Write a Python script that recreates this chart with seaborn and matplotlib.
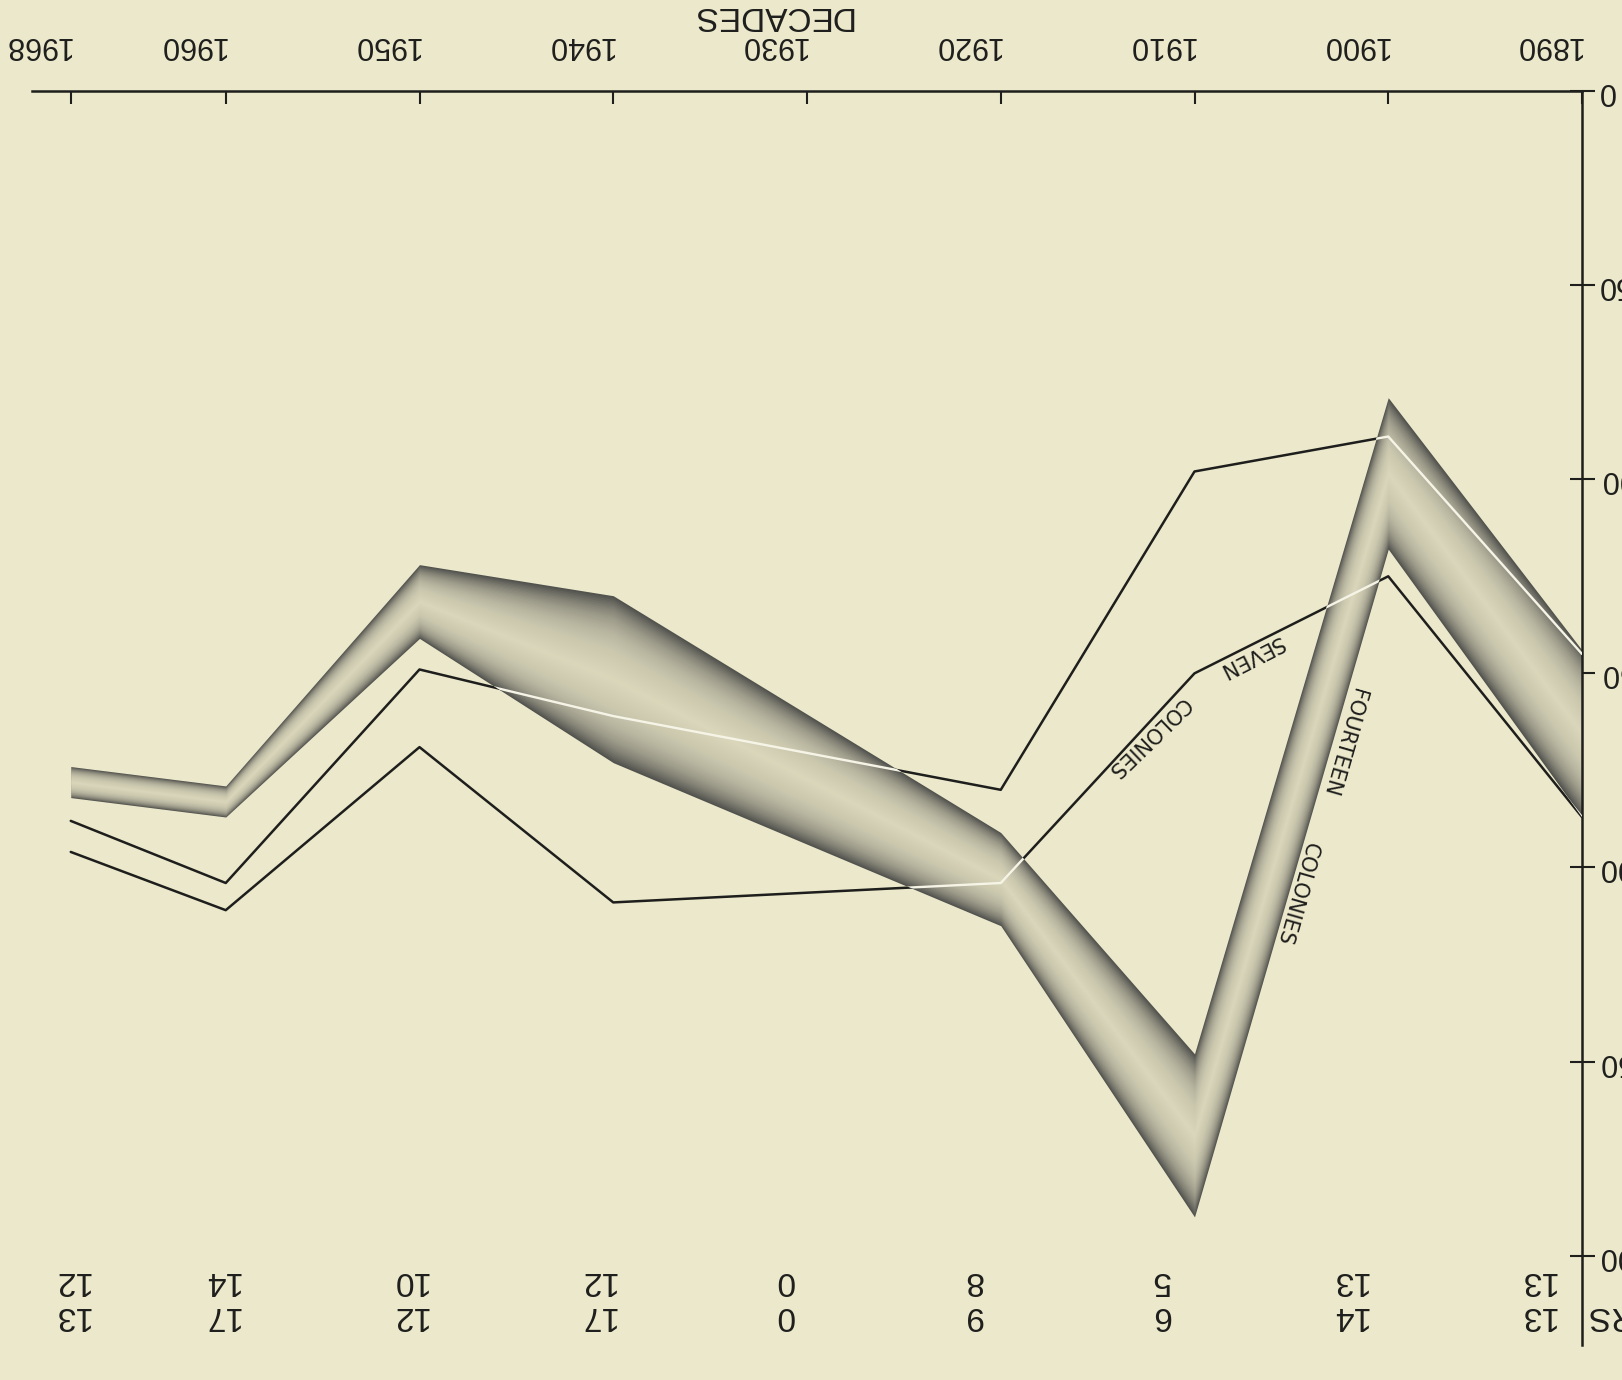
import numpy as np
import pandas as pd
import matplotlib
matplotlib.use("Agg")
import matplotlib.pyplot as plt
import seaborn as sns

# ---------------- data ----------------
decades = [1890, 1900, 1910, 1920, 1930, 1940, 1950, 1960, 1968]
decade_labels = ["1890", "1900", "1910", "1920", "1930", "1940", "1950", "1960", "1968"]
fourteen_low = [144, 79, 248, 191, np.nan, 130, 122, 179, 174]
fourteen_high = [187, 118, 290, 215, np.nan, 173, 141, 187, 182]
seven_colonies = [187, 125, 150, 204, np.nan, 209, 169, 211, 196]
second_line = [145, 89, 98, 180, np.nan, 161, 149, 204, 188]
count_row1 = [13, 14, 6, 9, 0, 17, 12, 17, 13]
count_row2 = [13, 13, 5, 8, 0, 12, 10, 14, 12]
y_ticks = [0, 50, 100, 150, 200, 250, 300]
y_tick_labels = ["0", "50", "100", "150", "200", "250", "300"]

BG = "#ebe8cb"
INK = "#1e1e1c"

sns.set_theme(style="white")
plt.rcParams["font.family"] = ["Liberation Sans Narrow", "Liberation Sans", "DejaVu Sans"]

fig = plt.figure(figsize=(16.22, 13.8), dpi=100, facecolor=BG)
ax = fig.add_axes([32 / 1622, 1 - 1345 / 1380, 1550 / 1622, 1254 / 1380])
ax.set_facecolor(BG)

df = pd.DataFrame({
    "decade": decades,
    "low": fourteen_low,
    "high": fourteen_high,
    "seven": seven_colonies,
    "second": second_line,
})
band = df.dropna(subset=["low", "high"])
bx = band["decade"].to_numpy(float)
lo = band["low"].to_numpy(float)
hi = band["high"].to_numpy(float)

# thin black lines (under the band)
for col in ["second", "seven"]:
    d = df.dropna(subset=[col])
    sns.lineplot(data=d, x="decade", y=col, sort=False, estimator=None,
                 color=INK, linewidth=1.8, ax=ax, zorder=1)

# shaded band: dark edges fading to a light centre
base = ax.fill_between(bx, lo, hi, color="#52524e", linewidth=0, zorder=2)
N = 44
for i in range(1, N + 1):
    t = i / (2 * (N + 1))
    ax.fill_between(bx, lo + (hi - lo) * t, hi - (hi - lo) * t,
                    color=BG, alpha=0.058, linewidth=0, zorder=2)

# the thin lines show as white where they cross the band
clip = base.get_paths()[0]
for col in ["second", "seven"]:
    d = df.dropna(subset=[col])
    ln, = ax.plot(d["decade"], d[col], color="#f6f4e6", linewidth=1.7, zorder=3)
    ln.set_clip_path(clip, ax.transData)

# axes: chart is shown upside down
ax.set_xlim(1970, 1890)
ax.set_ylim(323, 0)
ax.xaxis.tick_top()
ax.xaxis.set_label_position("top")
ax.yaxis.tick_right()
ax.yaxis.set_label_position("right")
for s in ["left", "bottom"]:
    ax.spines[s].set_visible(False)
for s in ["top", "right"]:
    ax.spines[s].set_visible(True)
    ax.spines[s].set_color(INK)
    ax.spines[s].set_linewidth(1.8)
ax.grid(False)

ax.set_xticks(decades)
ax.set_xticklabels(decade_labels)
ax.set_yticks(y_ticks)
ax.set_yticklabels(y_tick_labels)
ax.tick_params(axis="x", direction="in", length=9, width=1.5, pad=22,
               labelsize=22, colors=INK)
ax.tick_params(axis="y", direction="inout", length=18, width=1.5, pad=2,
               labelsize=22, colors=INK)
for lab in ax.get_xticklabels():
    lab.set_rotation(180)
    lab.set_ha("right")
for lab in ax.get_yticklabels():
    lab.set_rotation(180)
    lab.set_va("center")

ax.set_ylabel("")
ax.set_xlabel("DECADES", rotation=180, fontsize=24, color=INK,
              ha="center", va="center")
ax.xaxis.set_label_coords(0.477, 1.06)

# counts of colonies under each decade
for d, c1, c2 in zip(decades, count_row1, count_row2):
    xo = d + 0.03 * (1968 - d)
    ax.text(xo, 306.4, str(c2), rotation=180, ha="center", va="center",
            fontsize=24, color=INK)
    ax.text(xo, 315.4, str(c1), rotation=180, ha="center", va="center",
            fontsize=24, color=INK)
ax.text(1889.95, 315.4, "NUMBERS", rotation=180, ha="left", va="center",
        fontsize=24, color=INK)

# labels along the lines
lab_kw = dict(ha="center", va="center", fontsize=15, color=INK,
              family=["DejaVu Sans"])
ax.text(1907.1, 145.5, "SEVEN", rotation=207, **lab_kw)
ax.text(1912.4, 166.3, "COLONIES", rotation=224, **lab_kw)
ax.text(1902.3, 167.6, "FOURTEEN", rotation=254, **lab_kw)
ax.text(1904.7, 206.7, "COLONIES", rotation=254, **lab_kw)

fig.savefig("out.png", dpi=100, facecolor=BG)
